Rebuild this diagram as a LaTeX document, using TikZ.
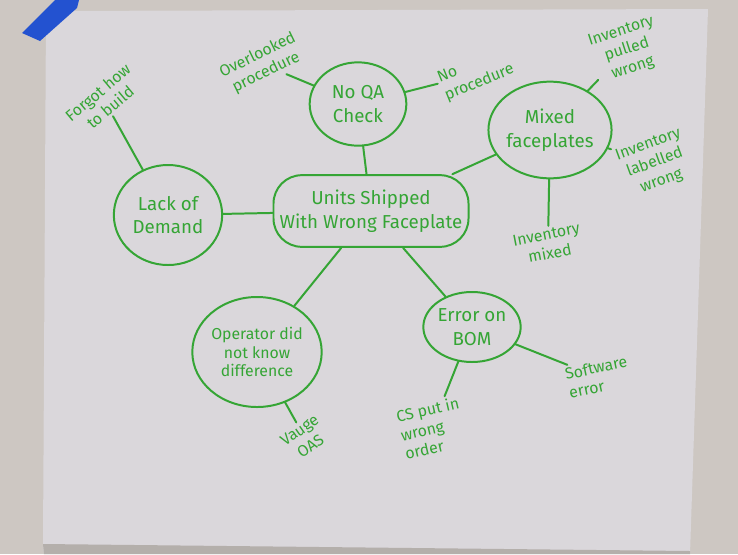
\documentclass[tikz,border=0pt]{standalone}
\usepackage{fontspec}
\setmainfont{Fira Sans}
\usetikzlibrary{shapes.geometric}

\definecolor{ink}{HTML}{35A535}
\definecolor{paper}{HTML}{DAD7DB}
\definecolor{wall}{HTML}{CDC7C2}
\definecolor{tape}{HTML}{2352D0}

\begin{document}
\begin{tikzpicture}[x=0.03cm, y=-0.03cm,
  bubble/.style={draw=ink, ellipse, line width=1.7pt, inner sep=0pt,
    align=center, text=ink, font=\fontsize{16}{20}\selectfont},
  cause/.style={text=ink, align=center, inner sep=2pt,
    font=\fontsize{13.5}{16.5}\selectfont},
  link/.style={draw=ink, line width=1.7pt, line cap=round}]

  % Wall, paper and tape
  \fill[wall] (0,0) rectangle (738,554);
  \fill[paper] (46,11) -- (708,9) -- (690,554) -- (44,554) -- (43,544) -- cycle;
  \fill[wall!88!black] (43,544) -- (690,551) -- (690,554) -- (44,554) -- cycle;
  \fill[tape] (55,0) -- (79,0) -- (77,8) -- (40,41) -- (22,33) -- cycle;
  \useasboundingbox (0,0) rectangle (738,554);

  % Bubbles
  \node[bubble, rectangle, rounded corners=0.85cm, minimum width=5.85cm,
    minimum height=2.15cm] (hub) at (371,211)
    {Units Shipped\\With Wrong Faceplate};
  \node[bubble, minimum width=2.9cm, minimum height=2.5cm] (qa) at (358,104)
    {No QA\\Check};
  \node[bubble, minimum width=3.25cm, minimum height=3.0cm] (lack) at (168,215)
    {Lack of\\Demand};
  \node[bubble, minimum width=3.55cm, minimum height=2.9cm] (mixed) at (550,130)
    {Mixed\\faceplates};
  \node[bubble, minimum width=3.8cm, minimum height=3.3cm,
    font=\fontsize{13.5}{16}\selectfont] (oper) at (257,352)
    {Operator did\\not know\\difference};
  \node[bubble, minimum width=2.85cm, minimum height=2.1cm] (bom) at (472,327)
    {Error on\\BOM};

  % Causes
  \node[cause, rotate=26] (overlooked) at (262,64) {Overlooked\\procedure};
  \node[cause, rotate=22, align=left] (noproc) at (476,74) {No\\procedure};
  \node[cause, rotate=40] (forgot) at (104,100) {Forgot how\\to build};
  \node[cause, rotate=18] (pulled) at (627,50) {Inventory\\pulled\\wrong};
  \node[cause, rotate=20] (labelled) at (655,163) {Inventory\\labelled\\wrong};
  \node[cause, rotate=11] (invmixed) at (548,244) {Inventory\\mixed};
  \node[cause, rotate=35] (vauge) at (305,438) {Vauge\\OAS};
  \node[cause, rotate=13, align=left] (cswrong) at (432,428) {CS put in\\wrong\\order};
  \node[cause, rotate=12, align=left] (software) at (598,377) {Software\\error};

  % Branches
  \draw[link] (hub) -- (qa);
  \draw[link] (hub) -- (lack);
  \draw[link] (hub) -- (mixed);
  \draw[link] (hub) -- (oper);
  \draw[link] (hub) -- (bom);

  % Twigs
  \draw[link] (qa) -- (overlooked);
  \draw[link] (qa) -- (noproc);
  \draw[link] (lack) -- (forgot);
  \draw[link] (mixed) -- (pulled);
  \draw[link] (mixed) -- (labelled);
  \draw[link] (mixed) -- (invmixed);
  \draw[link] (oper) -- (vauge);
  \draw[link] (bom) -- (cswrong);
  \draw[link] (bom) -- (software);

\end{tikzpicture}
\end{document}
